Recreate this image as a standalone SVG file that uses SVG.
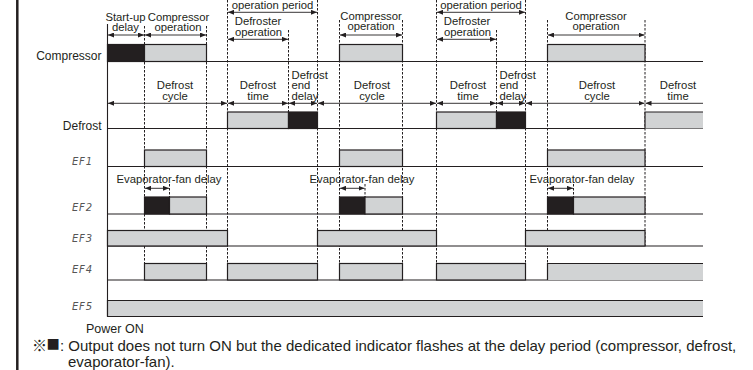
<svg xmlns="http://www.w3.org/2000/svg" width="753" height="370" viewBox="0 0 753 370">
<defs>
<style>
.t{font-family:"Liberation Sans",Arial,sans-serif;font-size:11.3px;fill:#231f20}
.c{text-anchor:middle}
.lbl{font-family:"Liberation Sans",Arial,sans-serif;font-size:12px;fill:#231f20;text-anchor:end}
.ef{font-family:"DejaVu Sans",sans-serif;font-size:10px;font-style:italic;fill:#555;letter-spacing:2px}
.ft{font-family:"Liberation Sans",Arial,"Noto Sans CJK JP",sans-serif;font-size:15px;fill:#231f20}
.g{stroke:#231f20;stroke-width:1;stroke-dasharray:2.5 1.5;fill:none}
.base{stroke:#231f20;stroke-width:1.1;fill:none}
.on{fill:#d1d3d4;stroke:#231f20;stroke-width:1.2}
.dl{fill:#231f20;stroke:#231f20;stroke-width:1.2}
.open{fill:#d1d3d4;stroke:none}
.edge{stroke:#231f20;stroke-width:1.2;fill:none}
.ar{stroke:#231f20;stroke-width:0.9;marker-start:url(#ah);marker-end:url(#ah)}
.al{stroke:#231f20;stroke-width:0.9;marker-start:url(#ah)}
</style>
<marker id="ah" viewBox="0 0 6 5" refX="6" refY="2.5" markerWidth="6" markerHeight="5" markerUnits="userSpaceOnUse" orient="auto-start-reverse"><path d="M0,0 L6,2.5 L0,5 z" fill="#231f20"/></marker>
</defs>
<rect width="753" height="370" fill="#fff"/>
<line x1="17.3" y1="0" x2="17.3" y2="370" stroke="#231f20" stroke-width="2.5"/>

<g id="connectors">
<g id="guides">
<line class="g" x1="144.5" y1="26" x2="144.5" y2="263.5"/>
<line class="g" x1="206.5" y1="26" x2="206.5" y2="263.5"/>
<line class="g" x1="227.5" y1="0" x2="227.5" y2="263.5"/>
<line class="g" x1="288.5" y1="30" x2="288.5" y2="112"/>
<line class="g" x1="317.5" y1="0" x2="317.5" y2="263.5"/>
<line class="g" x1="339.5" y1="20" x2="339.5" y2="263.5"/>
<line class="g" x1="402.5" y1="20" x2="402.5" y2="263.5"/>
<line class="g" x1="436.5" y1="0" x2="436.5" y2="263.5"/>
<line class="g" x1="496.5" y1="30" x2="496.5" y2="112"/>
<line class="g" x1="525.5" y1="0" x2="525.5" y2="263.5"/>
<line class="g" x1="547.5" y1="20" x2="547.5" y2="263.5"/>
<line class="g" x1="645" y1="20" x2="645" y2="246"/>
<line class="g" x1="169.5" y1="184" x2="169.5" y2="197"/>
<line class="g" x1="365" y1="184" x2="365" y2="197"/>
<line class="g" x1="573.5" y1="184" x2="573.5" y2="197"/>
</g>
<line x1="107.5" y1="24" x2="107.5" y2="316.5" stroke="#231f20" stroke-width="1.1"/>
<g id="dimensions">
<line class="ar" x1="108" y1="35" x2="144" y2="35"/>
<line class="ar" x1="145" y1="35" x2="206" y2="35"/>
<line class="ar" x1="228" y1="12.3" x2="317" y2="12.3"/>
<line class="ar" x1="228" y1="39.3" x2="288" y2="39.3"/>
<line class="ar" x1="340" y1="35" x2="402" y2="35"/>
<line class="ar" x1="437" y1="12.3" x2="525" y2="12.3"/>
<line class="ar" x1="437" y1="39.3" x2="496" y2="39.3"/>
<line class="ar" x1="548" y1="35" x2="644.5" y2="35"/>
<line class="ar" x1="108" y1="103.3" x2="227" y2="103.3"/>
<line class="ar" x1="228" y1="103.3" x2="288" y2="103.3"/>
<line class="ar" x1="289" y1="103.3" x2="317" y2="103.3"/>
<line class="ar" x1="318" y1="103.3" x2="436" y2="103.3"/>
<line class="ar" x1="437" y1="103.3" x2="496" y2="103.3"/>
<line class="ar" x1="497" y1="103.3" x2="525" y2="103.3"/>
<line class="ar" x1="526" y1="103.3" x2="644.5" y2="103.3"/>
<line class="al" x1="645.5" y1="103.3" x2="703" y2="103.3"/>
<line class="ar" x1="145" y1="188.3" x2="169" y2="188.3"/>
<line class="ar" x1="340" y1="188.3" x2="364.5" y2="188.3"/>
<line class="ar" x1="548" y1="188.3" x2="573" y2="188.3"/>
</g>
</g>

<g id="annotations">
<text class="t c" x="125.5" y="20.5">Start-up</text>
<text class="t c" x="125.5" y="30.8">delay</text>
<text class="t c" x="178.5" y="20.5">Compressor</text>
<text class="t c" x="178" y="30.8">operation</text>
<text class="t c" x="272.5" y="9.3">operation period</text>
<text class="t c" x="258" y="25">Defroster</text>
<text class="t c" x="258.5" y="35.5">operation</text>
<text class="t c" x="371" y="20">Compressor</text>
<text class="t c" x="371" y="30.3">operation</text>
<text class="t c" x="481" y="9.3">operation period</text>
<text class="t c" x="467" y="25">Defroster</text>
<text class="t c" x="467.5" y="35.5">operation</text>
<text class="t c" x="596" y="20">Compressor</text>
<text class="t c" x="596" y="30.3">operation</text>

<text class="t c" x="175" y="89.3">Defrost</text>
<text class="t c" x="175" y="99.6">cycle</text>
<text class="t c" x="258" y="89.3">Defrost</text>
<text class="t c" x="258" y="99.6">time</text>
<text class="t" x="291.5" y="78.5">Defrost</text>
<text class="t" x="291.5" y="89">end</text>
<text class="t" x="291.5" y="99.6">delay</text>
<text class="t c" x="372" y="89.3">Defrost</text>
<text class="t c" x="372" y="99.6">cycle</text>
<text class="t c" x="468" y="89.3">Defrost</text>
<text class="t c" x="468" y="99.6">time</text>
<text class="t" x="499.5" y="78.5">Defrost</text>
<text class="t" x="499.5" y="89">end</text>
<text class="t" x="499.5" y="99.6">delay</text>
<text class="t c" x="597" y="89.3">Defrost</text>
<text class="t c" x="597" y="99.6">cycle</text>
<text class="t c" x="678" y="89.3">Defrost</text>
<text class="t c" x="678" y="99.6">time</text>

<text class="t c" x="169" y="183">Evaporator-fan delay</text>
<text class="t c" x="362" y="183">Evaporator-fan delay</text>
<text class="t c" x="582" y="183">Evaporator-fan delay</text>
</g>

<g id="row-compressor">
<text class="lbl" x="101.5" y="59.5">Compressor</text>
<line class="base" x1="107.5" y1="61.5" x2="703" y2="61.5"/>
<rect class="dl" x="107.5" y="44.5" width="37" height="17"/>
<rect class="on" x="144.5" y="44.5" width="62" height="17"/>
<rect class="on" x="339.5" y="44.5" width="63" height="17"/>
<rect class="on" x="547.5" y="44.5" width="97.5" height="17"/>
</g>

<g id="row-defrost">
<text class="lbl" x="101.5" y="129.5">Defrost</text>
<line class="base" x1="107.5" y1="128.5" x2="703" y2="128.5"/>
<rect class="on" x="227.5" y="112" width="61" height="16.5"/>
<rect class="dl" x="288.5" y="112" width="29" height="16.5"/>
<rect class="on" x="436.5" y="112" width="60" height="16.5"/>
<rect class="dl" x="496.5" y="112" width="29" height="16.5"/>
<rect class="open" x="645" y="112" width="58" height="16.5"/>
<polyline class="edge" points="703,112 645,112 645,128.5"/>
</g>

<g id="row-ef1">
<text class="ef" x="72" y="165" textLength="22">EF1</text>
<line class="base" x1="107.5" y1="166.5" x2="703" y2="166.5"/>
<rect class="on" x="144.5" y="150" width="62" height="16.5"/>
<rect class="on" x="339.5" y="150" width="63" height="16.5"/>
<rect class="on" x="547.5" y="150" width="97.5" height="16.5"/>
</g>

<g id="row-ef2">
<text class="ef" x="72" y="210.5" textLength="22">EF2</text>
<line class="base" x1="107.5" y1="214" x2="703" y2="214"/>
<rect class="dl" x="144.5" y="197" width="25" height="17"/>
<rect class="on" x="169.5" y="197" width="37" height="17"/>
<rect class="dl" x="339.5" y="197" width="25.5" height="17"/>
<rect class="on" x="365" y="197" width="37.5" height="17"/>
<rect class="dl" x="547.5" y="197" width="26" height="17"/>
<rect class="on" x="573.5" y="197" width="71.5" height="17"/>
</g>

<g id="row-ef3">
<text class="ef" x="72" y="241.8" textLength="22">EF3</text>
<line class="base" x1="107.5" y1="246" x2="703" y2="246"/>
<rect class="on" x="107.5" y="230.5" width="120" height="15.5"/>
<rect class="on" x="317.5" y="230.5" width="119" height="15.5"/>
<rect class="on" x="525.5" y="230.5" width="119.5" height="15.5"/>
</g>

<g id="row-ef4">
<text class="ef" x="72" y="273" textLength="22">EF4</text>
<line class="base" x1="107.5" y1="280" x2="703" y2="280"/>
<rect class="on" x="144.5" y="263.5" width="62" height="16.5"/>
<rect class="on" x="227.5" y="263.5" width="90" height="16.5"/>
<rect class="on" x="339.5" y="263.5" width="63" height="16.5"/>
<rect class="on" x="436.5" y="263.5" width="89" height="16.5"/>
<rect class="open" x="547.5" y="263.5" width="155.5" height="16.5"/>
<polyline class="edge" points="703,263.5 547.5,263.5 547.5,280"/>
</g>

<g id="row-ef5">
<text class="ef" x="72" y="310.2" textLength="22">EF5</text>
<rect class="open" x="107.5" y="300.5" width="595.5" height="16"/>
<polyline class="edge" points="703,300.5 107.5,300.5 107.5,316.5 703,316.5"/>
</g>

<g id="footer">
<text class="ft" x="86" y="332.5" style="font-size:12.5px">Power ON</text>
<text class="ft" y="351"><tspan x="32" font-size="15" font-family="Noto Sans CJK JP,sans-serif">※</tspan><tspan x="46.5" font-size="22">■</tspan><tspan x="60">: Output does not turn ON but the dedicated indicator flashes at the delay period (compressor, defrost,</tspan></text>
<text class="ft" x="68" y="366.5">evaporator-fan).</text>
</g>
</svg>
